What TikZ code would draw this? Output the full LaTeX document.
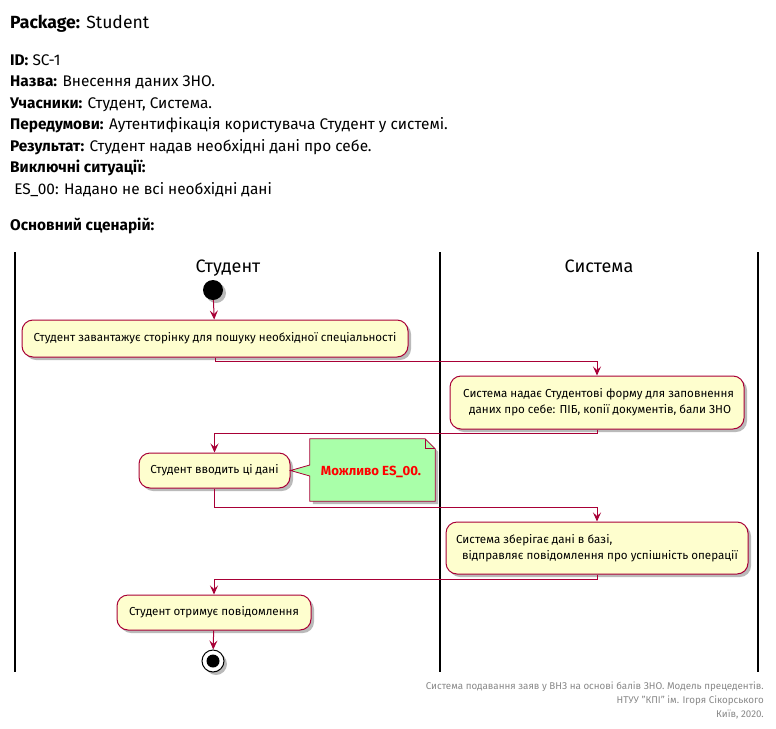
\documentclass[tikz,border=0pt]{standalone}
\usepackage{fontspec}
\setmainfont{Fira Sans}
\usetikzlibrary{arrows.meta,shadows,positioning}
\definecolor{umlred}{HTML}{A80036}
\definecolor{umlfill}{HTML}{FEFECE}
\definecolor{notefill}{HTML}{A9FFA9}
\definecolor{footgray}{HTML}{888888}
\tikzset{
  shad/.style={drop shadow={shadow xshift=3pt,shadow yshift=-3pt,fill=black!45,opacity=0.6}},
  act/.style={draw=umlred, fill=umlfill, rounded corners=11pt, line width=1pt,
    font=\fontsize{11.6}{16}\selectfont, shad, inner sep=0pt},
  flow/.style={draw=umlred, line width=1pt, -{Stealth[length=9pt,width=8pt,inset=3.5pt]}},
  hdr/.style={anchor=base west, font=\fontsize{15.4}{17}\selectfont, inner sep=0pt},
  lane/.style={line width=1.5pt, black},
  lanetitle/.style={anchor=base, font=\fontsize{18}{20}\selectfont, inner sep=0pt},
  foot/.style={anchor=base east, text=footgray, font=\fontsize{9.8}{11}\selectfont, inner sep=0pt}
}
\begin{document}
\begin{tikzpicture}[x=1pt,y=-1pt]
\useasboundingbox (0,0) rectangle (776,728);
% header texts
\node[hdr, font=\fontsize{17.6}{19}\selectfont] (pkg) at (10,28) {\textbf{Package:} Student};
\node[hdr] (l1) at (10,65) {\textbf{ID:} SC-1};
\node[hdr] (l2) at (10,86.5) {\textbf{Назва:} Внесення даних ЗНО.};
\node[hdr] (l3) at (10,108) {\textbf{Учасники:} Студент, Система.};
\node[hdr] (l4) at (10,129.5) {\textbf{Передумови:} Аутентифікація користувача Студент у системі.};
\node[hdr] (l5) at (10,151) {\textbf{Результат:} Студент надав необхідні дані про себе.};
\node[hdr] (l6) at (10,172.5) {\textbf{Виключні ситуації:}};
\node[hdr] (l7) at (10,194) {\ ES\_00: Надано не всі необхідні дані};
\node[hdr] (l8) at (10,230) {\textbf{Основний сценарій:}};
% swimlanes
\draw[lane] (15,252) coordinate (s1) -- (15,672) coordinate (e1);
\draw[lane] (440,252) coordinate (s2) -- (440,672) coordinate (e2);
\draw[lane] (758,252) coordinate (s3) -- (758,672) coordinate (e3);
\node[lanetitle] (t1) at (228,272) {Студент};
\node[lanetitle] (t2) at (599,272) {Система};
% nodes
\node[circle, fill=black, minimum size=20pt, inner sep=0pt, shad] (start) at (213,290) {};
\node[act, minimum width=386pt, minimum height=37pt] (b1) at (215,338.5)
  {Студент завантажує сторінку для пошуку необхідної спеціальності};
\node[act, minimum width=294pt, minimum height=53pt, align=center] (b2) at (597,402.5)
  {\ Система надає Студентові форму для заповнення\\ \ \ даних про себе: ПІБ, копії документів, бали ЗНО};
\node[act, minimum width=151pt, minimum height=35pt] (b3) at (214.5,470.5)
  {Студент вводить ці дані};
\node[act, minimum width=302pt, minimum height=52pt, align=left] (b4) at (597,548)
  {Система зберігає дані в базі,\\ \hspace{6pt}відправляє повідомлення про успішність операції};
\node[act, minimum width=194pt, minimum height=35pt] (b5) at (214,612.5)
  {Студент отримує повідомлення};
\node[circle, draw=black, line width=1pt, fill=white, minimum size=22pt, inner sep=0pt, shad] (end) at (213,661) {};
\node[circle, fill=black, minimum size=13pt, inner sep=0pt] (endin) at (end.center) {};
% note
\node[minimum width=125pt, minimum height=62pt, inner sep=0pt] (note) at (372.5,470) {};
\fill[black!45, opacity=0.6] ([xshift=3pt,yshift=-3pt]note.north west) -- ([xshift=-7pt,yshift=-3pt]note.north east)
  -- ([xshift=3pt,yshift=-13pt]note.north east) -- ([xshift=3pt,yshift=-3pt]note.south east) -- ([xshift=3pt,yshift=-3pt]note.south west) -- cycle;
\draw[umlred, fill=notefill, line width=0.8pt] (note.north west) -- ([xshift=-10pt]note.north east)
  -- ([yshift=-10pt]note.north east) -- (note.south east) -- (note.south west)
  -- ([yshift=-6pt]note.west) -- (b3.east) -- ([yshift=5pt]note.west) -- cycle;
\draw[umlred, line width=0.8pt] ([xshift=-10pt]note.north east) -- ([xshift=-10pt,yshift=-10pt]note.north east) -- ([yshift=-10pt]note.north east);
\node[text=red, font=\fontsize{13.2}{15}\selectfont\bfseries] (notetext) at (371,472) {Можливо ES\_00.};
% flows
\draw[flow] (start) -- (b1);
\draw[flow] (b1.south) -- ++(0,4) -| (b2.north);
\draw[flow] (b2.south) -- ++(0,4) -| (b3.north);
\draw[flow] (b3.south) -- ++(0,19) -| (b4.north);
\draw[flow] (b4.south) -- ++(0,5) -| (b5.north);
\draw[flow] (b5) -- (end);
% footer
\node[foot] (f1) at (764,689) {Система подавання заяв у ВНЗ на основі балів ЗНО. Модель прецедентів.};
\node[foot] (f2) at (764,703) {НТУУ "КПІ" ім. Ігоря Сікорського};
\node[foot] (f3) at (764,717) {Київ, 2020.};
\end{tikzpicture}
\end{document}
